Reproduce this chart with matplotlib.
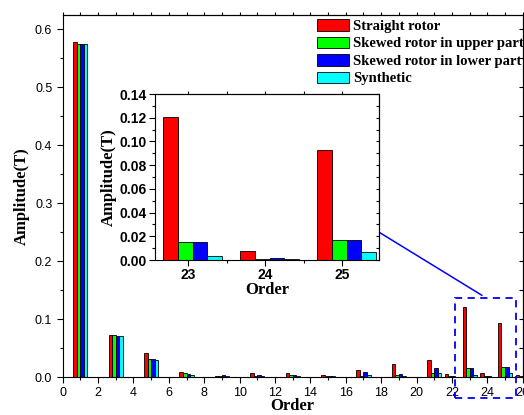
import matplotlib
matplotlib.use("Agg")
import matplotlib.pyplot as plt
import numpy as np
from matplotlib.patches import Rectangle

# harmonic order and amplitude (T) for each rotor type
orders = list(range(1, 27))
straight = [0.578, 0.0008, 0.073, 0.0008, 0.042, 0.0008, 0.0086, 0.0008, 0.0012,
            0.0008, 0.0068, 0.0008, 0.0068, 0.0008, 0.0035, 0.0008, 0.0125, 0.0008,
            0.0225, 0.0008, 0.030, 0.0046, 0.121, 0.0075, 0.093, 0.003]
upper = [0.575, 0.0008, 0.073, 0.0008, 0.0315, 0.0008, 0.0075, 0.0008, 0.0015,
         0.0008, 0.0025, 0.0008, 0.0035, 0.0008, 0.0012, 0.0008, 0.002, 0.0008,
         0.0035, 0.0008, 0.007, 0.0012, 0.015, 0.001, 0.017, 0.002]
lower = [0.575, 0.0008, 0.071, 0.0008, 0.0315, 0.0008, 0.0057, 0.0008, 0.004,
         0.0008, 0.003, 0.0008, 0.004, 0.0008, 0.0015, 0.0008, 0.009, 0.0008,
         0.005, 0.0008, 0.016, 0.0012, 0.015, 0.0015, 0.017, 0.002]
synthetic = [0.574, 0.0008, 0.0707, 0.0008, 0.030, 0.0008, 0.004, 0.0008, 0.002,
             0.0008, 0.001, 0.0008, 0.002, 0.0008, 0.001, 0.0008, 0.004, 0.0008,
             0.001, 0.0008, 0.007, 0.0008, 0.003, 0.0006, 0.007, 0.001]

labels = ["Straight rotor", "Skewed rotor in upper part",
          "Skewed rotor in lower part", "Synthetic"]
colors = ["#ff0000", "#00ff00", "#0000ff", "#00ffff"]
series = [straight, upper, lower, synthetic]

zoom_orders = [23, 24, 25]

SERIF = ["Liberation Serif", "DejaVu Serif"]
SANS = ["Liberation Sans", "DejaVu Sans"]


def main() -> None:
    fig = plt.figure(figsize=(5.24, 4.15), dpi=100)
    ax = fig.add_axes([62.7 / 524, 38 / 415, 460 / 524, 362.3 / 415])

    x = np.array(orders, dtype=float)
    w = 0.2
    offsets = [-0.3, -0.1, 0.1, 0.3]
    for vals, col, lab, off in zip(series, colors, labels, offsets):
        ax.bar(x + off, vals, width=w, color=col, edgecolor="black",
               linewidth=0.6, label=lab)

    ax.set_xlim(0, 26)
    ax.set_ylim(0, 0.625)
    ax.set_xticks(range(0, 27, 2))
    ax.set_xticks(range(1, 27, 2), minor=True)
    ax.set_yticks(np.arange(0, 0.61, 0.1))
    ax.set_yticks(np.arange(0.05, 0.61, 0.1), minor=True)
    ax.set_yticklabels([f"{v:.1f}" for v in np.arange(0, 0.61, 0.1)])
    ax.tick_params(which="both", direction="out", labelsize=9, width=0.8)
    ax.tick_params(which="major", length=4)
    ax.tick_params(which="minor", length=2.5)
    for t in ax.get_xticklabels() + ax.get_yticklabels():
        t.set_family(SANS)
    ax.set_xlabel("Order", family=SERIF, fontweight="bold", fontsize=12, labelpad=-1)
    ax.set_ylabel("Amplitude(T)", family=SERIF, fontweight="bold", fontsize=12, labelpad=4)

    # mirrored ticks: top outward every order, right inward every 0.05
    top = ax.secondary_xaxis("top")
    top.set_xticks(range(0, 27))
    top.tick_params(direction="out", length=2, width=0.8, labeltop=False)
    right = ax.secondary_yaxis("right")
    right.set_yticks(np.arange(0, 0.61, 0.05))
    right.tick_params(direction="in", length=3, width=0.8, labelright=False)

    # zoom box and connector
    ax.add_patch(Rectangle((22.2, -0.036), 3.4, 0.172, fill=False, edgecolor="#0000ff",
                           linestyle=(0, (4, 3)), linewidth=1.3, clip_on=False, zorder=5))
    ax.plot([17.87, 23.69], [0.25, 0.141], color="#0000ff", linewidth=1.1, zorder=5)

    ax.legend(loc="upper left", bbox_to_anchor=(317 / 524, 1 - 19 / 415),
              bbox_transform=fig.transFigure, frameon=False, borderpad=0,
              borderaxespad=0, handlelength=2.2, handleheight=0.85,
              handletextpad=0.3, labelspacing=0.25,
              prop={"family": SERIF, "weight": "bold", "size": 10.5})

    # inset
    ins = fig.add_axes([155 / 524, 155 / 415, 224 / 524, 166 / 415])
    zi = [orders.index(o) for o in zoom_orders]
    xi = np.array(zoom_orders, dtype=float)
    in_offsets = [-0.225, -0.035, 0.155, 0.345]
    for vals, col, off in zip(series, colors, in_offsets):
        ins.bar(xi + off, [vals[i] for i in zi], width=0.19, color=col,
                edgecolor="black", linewidth=0.6)
    ins.set_xlim(22.57, 25.48)
    ins.set_ylim(0, 0.14)
    ins.set_xticks(zoom_orders)
    ins.set_xticks([23.5, 24.5], minor=True)
    ins.set_yticks(np.arange(0, 0.141, 0.02))
    ins.set_yticks(np.arange(0.01, 0.14, 0.02), minor=True)
    ins.set_yticklabels([f"{v:.2f}" for v in np.arange(0, 0.141, 0.02)])
    ins.tick_params(which="both", direction="out", labelsize=10, width=0.8, pad=2)
    ins.tick_params(which="major", length=4)
    ins.tick_params(which="minor", length=2.5)
    for t in ins.get_xticklabels() + ins.get_yticklabels():
        t.set_family(SANS)
        t.set_fontweight("bold")
    ins.set_xlabel("Order", family=SERIF, fontweight="bold", fontsize=12, labelpad=0)
    ins.set_ylabel("Amplitude(T)", family=SERIF, fontweight="bold", fontsize=12, labelpad=2)
    ins_top = ins.secondary_xaxis("top")
    ins_top.set_xticks([23, 23.5, 24, 24.5, 25])
    ins_top.tick_params(direction="out", length=2, width=0.8, labeltop=False)
    ins_right = ins.secondary_yaxis("right")
    ins_right.set_yticks(np.arange(0, 0.141, 0.01))
    ins_right.tick_params(direction="in", length=2.5, width=0.8, labelright=False)

    fig.savefig("out.png", dpi=100)
    plt.close(fig)


if __name__ == "__main__":
    main()
